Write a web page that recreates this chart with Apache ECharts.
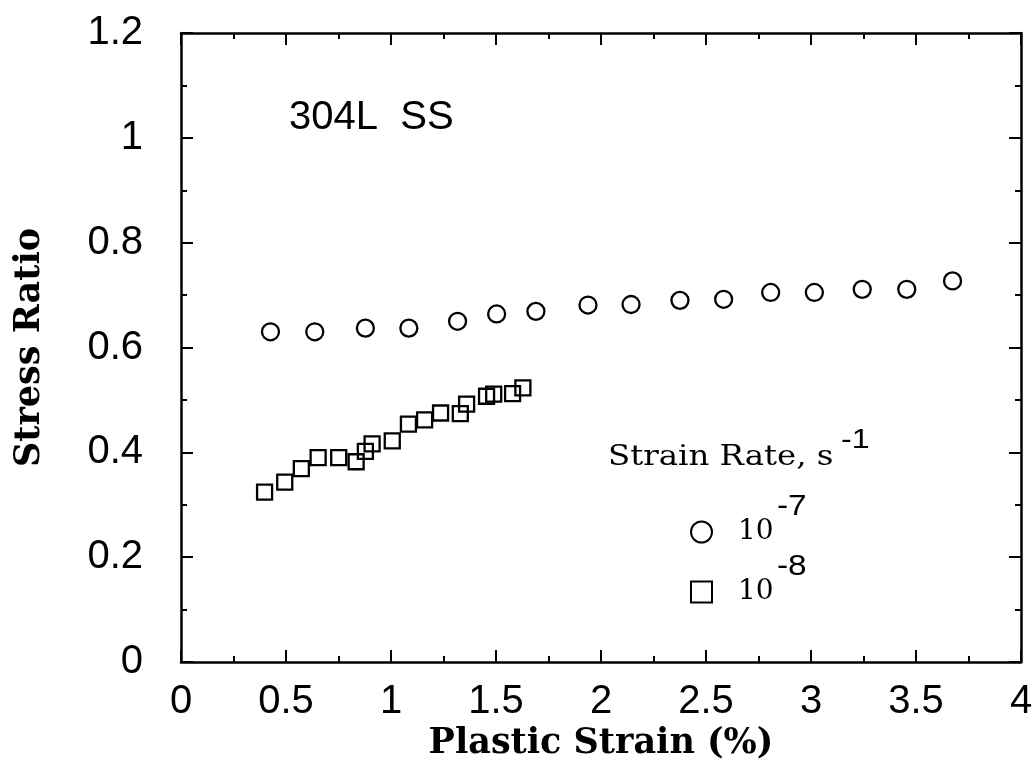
<!DOCTYPE html>
<html>
<head>
<meta charset="utf-8">
<script src="https://cdn.jsdelivr.net/npm/echarts@6/dist/echarts.min.js"></script>
<style>
  html, body { margin: 0; padding: 0; background: #fff; }
  #main { width: 1036px; height: 782px; }
</style>
</head>
<body>
<div id="main"></div>
<script>
// strain rate 1e-7 (circles)
const strain7 = [0.426, 0.637, 0.878, 1.085, 1.317, 1.503, 1.690, 1.938, 2.143, 2.376, 2.584, 2.808, 3.016, 3.244, 3.456, 3.674];
const ratio7 = [0.630, 0.630, 0.637, 0.637, 0.650, 0.664, 0.669, 0.681, 0.682, 0.690, 0.692, 0.705, 0.705, 0.711, 0.711, 0.727];

// strain rate 1e-8 (squares)
const strain8 = [0.398, 0.494, 0.573, 0.653, 0.751, 0.834, 0.878, 0.910, 1.006, 1.083, 1.160, 1.236, 1.330, 1.360, 1.455, 1.489, 1.579, 1.628];
const ratio8 = [0.324, 0.343, 0.369, 0.390, 0.390, 0.382, 0.402, 0.416, 0.422, 0.454, 0.462, 0.475, 0.474, 0.492, 0.507, 0.511, 0.512, 0.523];

const seriesNames = ['1e-7', '1e-8'];

const sans = 'Liberation Sans';
const serif = 'DejaVu Serif';

const pairs = (xs, ys) => xs.map((x, i) => [x, ys[i]]);

const chart = echarts.init(document.getElementById('main'));

const tickStyle = { color: '#000', width: 2 };
function xAx(pos, labels) {
  return {
    type: 'value', position: pos, min: 0, max: 4, interval: 0.5,
    axisLine: { show: true, onZero: false, lineStyle: { color: '#000', width: 2.5 } },
    axisTick: { show: true, inside: true, length: 12, lineStyle: tickStyle },
    minorTick: { show: true, splitNumber: 2, length: 6, lineStyle: tickStyle },
    splitLine: { show: false },
    axisLabel: { show: labels, color: '#000', fontSize: 40, fontFamily: sans, margin: 20 },
    name: labels ? 'Plastic Strain (%)' : '',
    nameLocation: 'middle', nameGap: 62,
    nameTextStyle: { color: '#000', fontSize: 35, fontWeight: 'bold', fontFamily: serif }
  };
}
function yAx(pos, labels) {
  return {
    type: 'value', position: pos, min: 0, max: 1.2, interval: 0.2,
    axisLine: { show: true, onZero: false, lineStyle: { color: '#000', width: 2.5 } },
    axisTick: { show: true, inside: true, length: 12, lineStyle: tickStyle },
    minorTick: { show: true, splitNumber: 2, length: 6, lineStyle: tickStyle },
    splitLine: { show: false },
    axisLabel: { show: labels, color: '#000', fontSize: 40, fontFamily: sans, margin: 38 },
    name: labels ? 'Stress Ratio' : '',
    nameLocation: 'middle', nameGap: 134,
    nameTextStyle: { color: '#000', fontSize: 35, fontWeight: 'bold', fontFamily: serif }
  };
}

const option = {
  backgroundColor: '#fff',
  animation: false,
  grid: { left: 181, right: 15, top: 33, bottom: 120 },
  xAxis: [xAx('bottom', true), xAx('top', false)],
  yAxis: [yAx('left', true), yAx('right', false)],
  legend: {
    data: seriesNames,
    orient: 'vertical',
    left: 685, top: 513,
    itemWidth: 21, itemHeight: 21, itemGap: 32,
    formatter: () => '{t|10}',
    textStyle: {
      color: '#000',
      rich: {
        t: { fontSize: 28, fontFamily: serif, color: '#000', padding: [0, 0, 0, 21] }
      }
    }
  },
  graphic: [
    { type: 'text', left: 289, top: 98,
      style: { text: '304L  SS', fontSize: 40, fontFamily: sans, fill: '#000' } },
    { type: 'text', x: 608, y: 444, scaleX: 1.2,
      style: { text: 'Strain Rate, s', fontSize: 27, fontFamily: serif, fill: '#000', verticalAlign: 'top' } },
    { type: 'text', x: 841, y: 426, scaleX: 1.15,
      style: { text: '-1', fontSize: 28, fontFamily: sans, fill: '#000', verticalAlign: 'top' } },
    { type: 'text', x: 777, y: 492, scaleX: 1.15,
      style: { text: '-7', fontSize: 29, fontFamily: sans, fill: '#000', verticalAlign: 'top' } },
    { type: 'text', x: 777, y: 552, scaleX: 1.15,
      style: { text: '-8', fontSize: 29, fontFamily: sans, fill: '#000', verticalAlign: 'top' } }
  ],
  series: [
    {
      name: seriesNames[0], type: 'scatter', symbol: 'circle', symbolSize: 17,
      itemStyle: { color: '#fff', borderColor: '#000', borderWidth: 2.3, opacity: 1 },
      data: pairs(strain7, ratio7)
    },
    {
      name: seriesNames[1], type: 'scatter', symbol: 'rect', symbolSize: 15,
      itemStyle: { color: 'rgba(255,255,255,0)', borderColor: '#000', borderWidth: 2.3, opacity: 1 },
      data: pairs(strain8, ratio8)
    }
  ]
};

chart.setOption(option);
</script>
</body>
</html>
